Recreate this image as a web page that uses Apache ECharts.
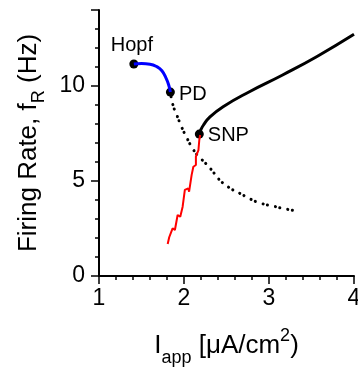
<!DOCTYPE html>
<html><head><meta charset="utf-8">
<script src="https://cdn.jsdelivr.net/npm/echarts@6/dist/echarts.min.js"></script>
<style>html,body{margin:0;padding:0;background:#fff}#c{width:358px;height:367px}</style>
</head><body><div id="c"></div>
<script>
// Stable branch near Hopf (blue)
const blueX = [1.41, 1.50, 1.60, 1.68, 1.74, 1.79, 1.82, 1.84];
const blueY = [11.16, 11.18, 11.15, 11.02, 10.80, 10.40, 10.05, 9.68];
// Stable upper branch from SNP (black solid)
const upperX = [2.18, 2.20, 2.23, 2.30, 2.46, 2.77, 3.16, 3.56, 4.00];
const upperY = [7.47, 7.72, 7.95, 8.35, 8.91, 9.70, 10.58, 11.54, 12.72];
// Unstable branch (dotted)
const unstX = [1.84, 1.87, 1.92, 1.97, 2.03, 2.09, 2.16, 2.25, 2.33, 2.42, 2.55, 2.67, 2.79, 2.91, 3.05, 3.16, 3.35];
const unstY = [9.68, 9.00, 8.42, 7.86, 7.30, 6.80, 6.35, 5.95, 5.55, 5.05, 4.60, 4.32, 4.03, 3.82, 3.68, 3.56, 3.40];
// Jagged red branch
const redX = [1.808, 1.826, 1.846, 1.866, 1.893, 1.925, 1.956, 1.984, 2.01, 2.05, 2.06, 2.09, 2.11, 2.14, 2.14, 2.17, 2.18, 2.19];
const redY = [1.68, 2.04, 1.97, 2.51, 2.42, 3.21, 3.12, 3.65, 4.53, 4.61, 4.44, 5.32, 5.75, 5.84, 6.28, 6.63, 7.16, 7.42];
// Bifurcation points
const ptNames = ['Hopf', 'PD', 'SNP'];
const ptX = [1.41, 1.84, 2.18];
const ptY = [11.16, 9.68, 7.47];
// Axis ticks
const xTicks = [1, 2, 3, 4];
const yTicks = [0, 5, 10];

const zip = (a, b) => a.map((v, i) => [v, b[i]]);
const FONT = 'Liberation Sans';
const isIn = (arr, v) => arr.some(t => Math.abs(t - v) < 1e-6);
const chart = echarts.init(document.getElementById('c'), null, {renderer: 'canvas'});
const labelPos = {Hopf: {position: 'top', distance: 4, offset: [-2, 0]}, PD: {position: 'right', distance: 4, offset: [0, 2]}, SNP: {position: 'right', distance: 4, offset: [0, 1]}};
const tickStyle = {color: '#000', width: 1.5};
chart.setOption({
  animation: false,
  backgroundColor: '#fff',
  grid: {left: 99, right: 4, top: 10, bottom: 91, containLabel: false, outerBoundsMode: 'none'},
  xAxis: [{
    type: 'value', min: 1, max: 4, interval: 0.2,
    axisLine: {show: true, lineStyle: {color: '#000', width: 2}},
    axisTick: {show: true, inside: false, length: 4, lineStyle: tickStyle},
    splitLine: {show: false},
    axisLabel: {color: '#000', fontFamily: FONT, fontSize: 23, margin: 11, showMinLabel: true, showMaxLabel: true,
      formatter: v => isIn(xTicks, v) ? String(Math.round(v)) : ''},
    name: '{n|I}{sub|app}{n| [μA/cm}{sup|2}{n|)}',
    nameLocation: 'middle', nameGap: 53,
    nameTextStyle: {color: '#000', fontFamily: FONT, fontSize: 26,
      rich: {
        n: {fontFamily: FONT, fontSize: 26, color: '#000', lineHeight: 34, verticalAlign: 'middle'},
        sub: {fontFamily: FONT, fontSize: 18, color: '#000', lineHeight: 18, verticalAlign: 'bottom', padding: [0, 0, -4, 0]},
        sup: {fontFamily: FONT, fontSize: 18, color: '#000', lineHeight: 18, verticalAlign: 'top', padding: [-2, 0, 0, 0]}
      }}
  }, {
    type: 'value', min: 1, max: 4, interval: 1, position: 'bottom',
    axisLine: {show: false}, axisLabel: {show: false}, splitLine: {show: false},
    axisTick: {show: true, inside: false, length: 8, lineStyle: tickStyle}
  }],
  yAxis: [{
    type: 'value', min: 0, max: 14, interval: 1,
    axisLine: {show: true, lineStyle: {color: '#000', width: 2}},
    axisTick: {show: true, inside: false, length: 4, lineStyle: tickStyle},
    splitLine: {show: false},
    axisLabel: {color: '#000', fontFamily: FONT, fontSize: 23, margin: 14,
      formatter: v => isIn(yTicks, v) ? String(v) : ''},
    name: '{n|Firing Rate, f}{sub|R}{n| (Hz)}',
    nameLocation: 'middle', nameGap: 52, nameRotate: 90,
    nameTextStyle: {color: '#000', fontFamily: FONT, fontSize: 26,
      rich: {
        n: {fontFamily: FONT, fontSize: 26, color: '#000', lineHeight: 32, verticalAlign: 'middle'},
        sub: {fontFamily: FONT, fontSize: 18, color: '#000', lineHeight: 18, verticalAlign: 'bottom', padding: [0, 0, -4, 0]}
      }}
  }, {
    type: 'value', min: 0, max: 14, interval: 5, position: 'left',
    axisLine: {show: false}, axisLabel: {show: false}, splitLine: {show: false},
    axisTick: {show: true, inside: false, length: 8, lineStyle: tickStyle}
  }],
  series: [
    {type: 'line', data: zip(unstX, unstY), smooth: true, symbol: 'none',
      lineStyle: {color: '#000', width: 3, type: [0.1, 4.5, 0.1, 8], cap: 'round'}},
    {type: 'line', data: zip(redX, redY), smooth: false, symbol: 'none',
      lineStyle: {color: '#ff0000', width: 2}},
    {type: 'line', data: zip(blueX, blueY), smooth: true, symbol: 'none',
      lineStyle: {color: '#0000ff', width: 3}},
    {type: 'line', data: zip(upperX, upperY), smooth: true, symbol: 'none',
      lineStyle: {color: '#000', width: 3}},
    {type: 'scatter', symbol: 'circle', symbolSize: 9, itemStyle: {color: '#000', opacity: 1},
      data: ptNames.map((n, i) => ({name: n, value: [ptX[i], ptY[i]],
        label: Object.assign({show: true, formatter: n, color: '#000', opacity: 1, fontFamily: FONT, fontSize: 20}, labelPos[n])}))}
  ]
});
</script></body></html>
